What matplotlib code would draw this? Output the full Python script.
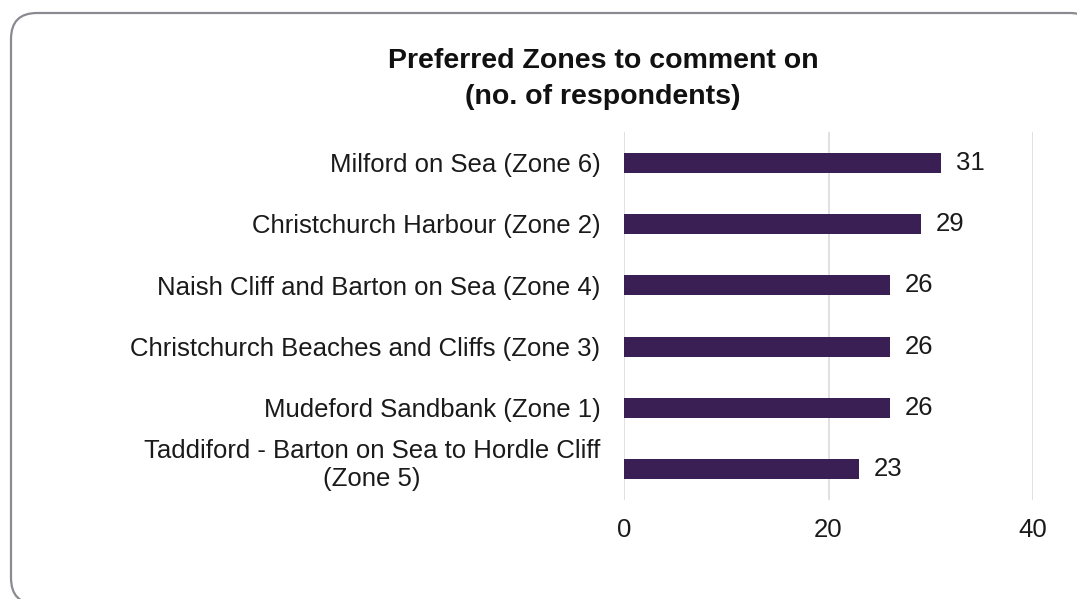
import matplotlib.pyplot as plt
import numpy as np
from matplotlib.patches import FancyBboxPatch
from matplotlib.transforms import IdentityTransform, ScaledTranslation

plt.rcParams['font.family'] = ['Liberation Sans', 'DejaVu Sans']

zones = ['Milford on Sea (Zone 6)',
         'Christchurch Harbour (Zone 2)',
         'Naish Cliff and Barton on Sea (Zone 4)',
         'Christchurch Beaches and Cliffs (Zone 3)',
         'Mudeford Sandbank (Zone 1)',
         'Taddiford - Barton on Sea to Hordle Cliff\n(Zone 5)']
respondents = [31, 29, 26, 26, 26, 23]
x_ticks = [0, 20, 40]

W, H = 1077, 599
FS = 18.5
fig = plt.figure(figsize=(W / 100, H / 100), dpi=100)

# rounded card outline behind the chart (pixel coordinates)
card = FancyBboxPatch((11, H - 604), 1085, 591,
                      boxstyle='round,pad=0,rounding_size=26',
                      transform=IdentityTransform(), facecolor='white',
                      edgecolor='#8a8a90', linewidth=1.6, zorder=-5)
fig.patches.append(card)

ax = fig.add_axes([624 / W, (H - 500) / H, (1033 - 624) / W, 368 / H])
ax.set_facecolor('none')
ax.set_zorder(2)

y = np.arange(len(zones))
ax.barh(y, respondents, height=0.33, color='#3a1f55', zorder=3)
for yi, v in zip(y, respondents):
    ax.text(v + 1.45, yi, str(v), va='center', ha='left', fontsize=FS, color='#1a1a1a')

ax.set_xlim(0, 40)
ax.set_ylim(len(zones) - 0.5, -0.5)
ax.set_xticks(x_ticks)
ax.set_yticks(y)
ax.set_yticklabels(zones, fontsize=FS, color='#1a1a1a', ha='right', multialignment='center')
ax.tick_params(axis='x', length=0, pad=13, labelsize=FS, labelcolor='#1a1a1a')
ax.tick_params(axis='y', length=0, pad=17)
ax.grid(axis='x', color='#dcdcdc', linewidth=1.2, zorder=0)
for s in ax.spines.values():
    s.set_visible(False)

# nudge the two-line label up a little
last = ax.get_yticklabels()[-1]
last.set_transform(last.get_transform() + ScaledTranslation(0, 6 / 72, fig.dpi_scale_trans))

fig.text(603 / W, 1 - 79 / H, 'Preferred Zones to comment on\n(no. of respondents)',
         ha='center', va='center', fontsize=20.5, fontweight='bold',
         color='#111111', linespacing=1.55)

fig.savefig('out.png', dpi=100)
